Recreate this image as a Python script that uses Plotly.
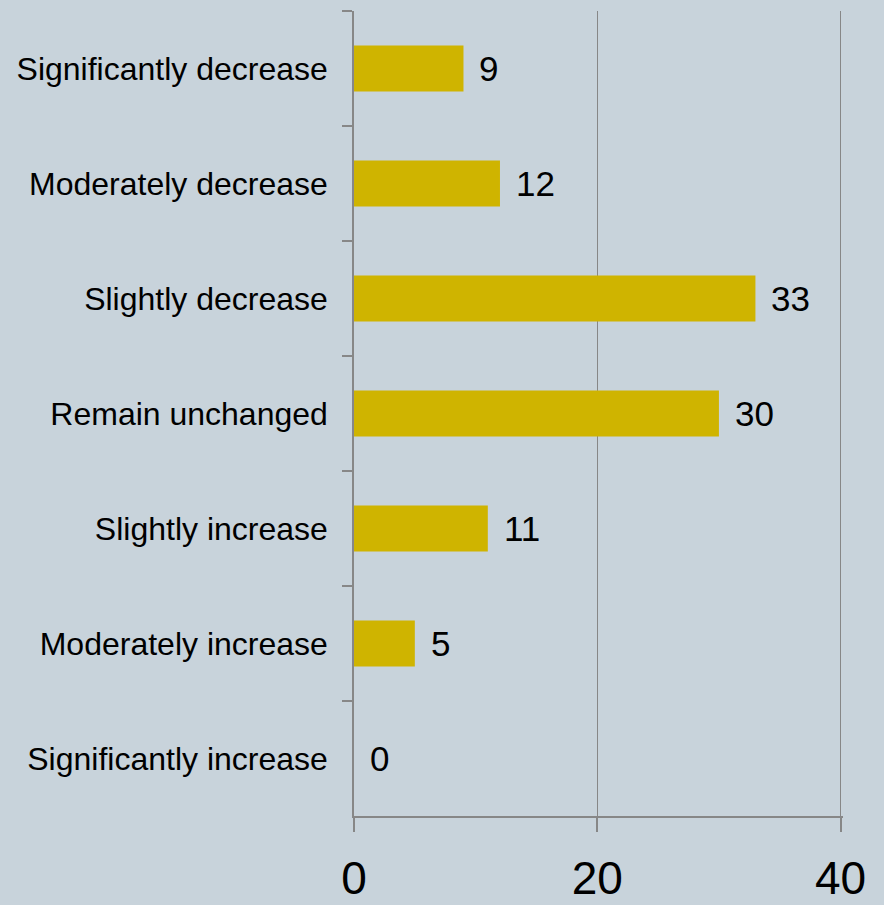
import plotly.graph_objects as go

categories = [
    "Significantly decrease",
    "Moderately decrease",
    "Slightly decrease",
    "Remain unchanged",
    "Slightly increase",
    "Moderately increase",
    "Significantly increase",
]
values = [9, 12, 33, 30, 11, 5, 0]
x_ticks = [0, 20, 40]

BG = "#C8D3DB"
BAR = "#CFB400"
LINE = "#878787"

fig = go.Figure(
    go.Bar(
        x=values,
        y=categories,
        orientation="h",
        width=0.4,
        marker=dict(color=BAR, line=dict(width=0)),
        hoverinfo="skip",
    )
)

for v, c in zip(values, categories):
    fig.add_annotation(
        x=v, y=c, text=str(v), showarrow=False,
        xanchor="left", yanchor="middle", xshift=14,
        font=dict(family="Liberation Sans, Arial", size=35, color="#000000"),
    )

fig.update_layout(
    width=884, height=905,
    margin=dict(l=354, r=41, t=11, b=89, pad=0),
    paper_bgcolor=BG, plot_bgcolor=BG,
    showlegend=False,
    font=dict(family="Liberation Sans, Arial", color="#000000"),
    xaxis=dict(
        range=[0, 40.2], tickvals=x_ticks, ticktext=[str(t) for t in x_ticks],
        showgrid=True, gridcolor=LINE, gridwidth=1,
        showline=True, linecolor=LINE, linewidth=1.5,
        ticks="outside", ticklen=14, tickcolor=LINE, tickwidth=1.5,
        tickfont=dict(size=46, color="#000000"),
        ticklabelstandoff=7,
        zeroline=False, fixedrange=True, automargin=False,
    ),
    yaxis=dict(
        categoryorder="array", categoryarray=categories,
        autorange="reversed",
        showgrid=False,
        showline=True, linecolor=LINE, linewidth=1.5,
        ticks="outside", ticklen=10, tickcolor=LINE, tickwidth=1.5,
        tickson="boundaries",
        tickfont=dict(size=32, color="#000000"),
        ticklabelstandoff=18,
        zeroline=False, fixedrange=True, automargin=False,
    ),
)

fig.write_html("out.html")
